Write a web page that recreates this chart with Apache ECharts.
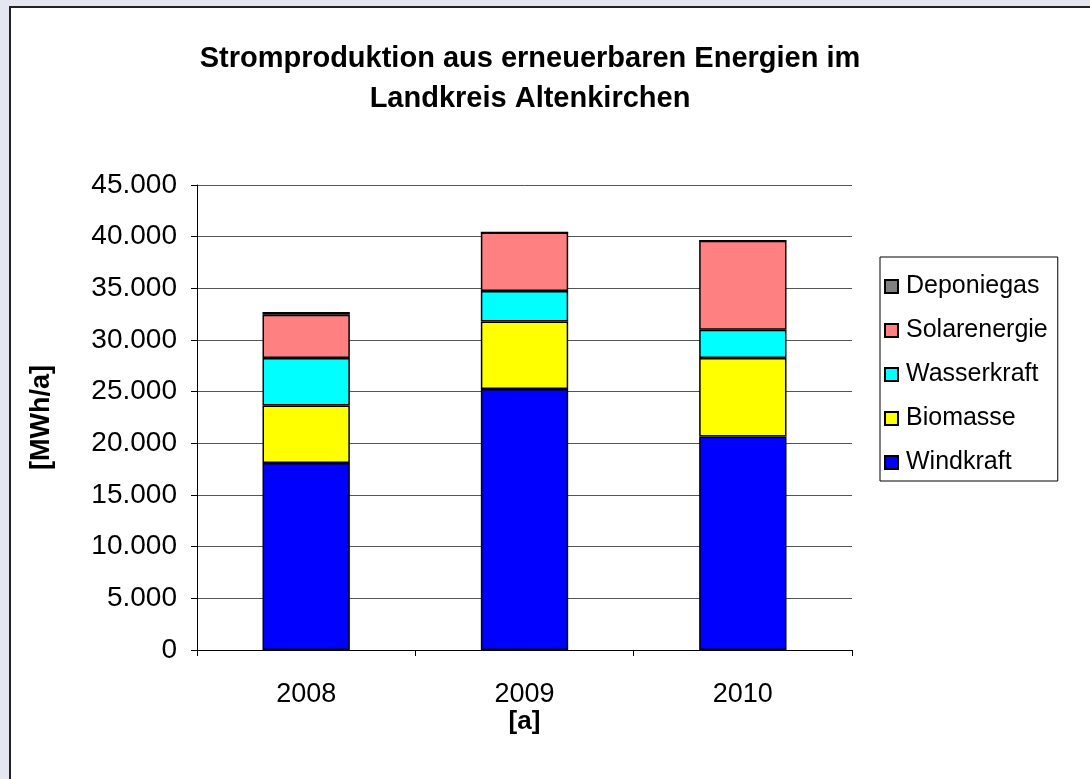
<!DOCTYPE html>
<html>
<head>
<meta charset="utf-8">
<script src="https://cdn.jsdelivr.net/npm/echarts@6/dist/echarts.min.js"></script>
<style>
    html, body {
        margin: 0;
        padding: 0;
        width: 1090px;
        height: 779px;
        overflow: hidden;
        background: #e4e6f2;
    }
    .frame {
        position: absolute;
        left: 9px;
        top: 6px;
        width: 1100px;
        height: 800px;
        background: #fff;
        border-left: 2px solid #222;
        border-top: 2px solid #222;
    }
    #chart {
        position: absolute;
        left: 0;
        top: 0;
        width: 1090px;
        height: 779px;
    }
</style>
</head>
<body>
<div class="frame"></div>
<div id="chart"></div>
<script>
    // Werte in MWh/a
    const years = ['2008', '2009', '2010'];
    const windkraft = [18100, 25250, 20650];
    const biomasse = [5550, 6550, 7600];
    const wasserkraft = [4600, 2950, 2750];
    const solarenergie = [4200, 5650, 8600];
    const deponiegas = [250, 0, 0];

    const seriesNames = ['Windkraft', 'Biomasse', 'Wasserkraft', 'Solarenergie', 'Deponiegas'];
    const seriesData = [windkraft, biomasse, wasserkraft, solarenergie, deponiegas];
    const seriesColors = ['#0000ff', '#ffff00', '#00ffff', '#ff8080', '#808080'];

    const font = '"Liberation Sans", Arial, sans-serif';

    let myChart = echarts.init(document.getElementById('chart'));

    let series = seriesNames.map(function (name, i) {
        return {
            name: name,
            type: 'bar',
            stack: 'total',
            barWidth: '40%',
            data: seriesData[i],
            itemStyle: {
                color: seriesColors[i],
                borderColor: '#000',
                borderWidth: 1.5
            }
        };
    });

    let option = {
        animation: false,
        title: {
            text: 'Stromproduktion aus erneuerbaren Energien im\nLandkreis Altenkirchen',
            left: 525,
            top: 34,
            textAlign: 'center',
            textStyle: {
                fontFamily: font,
                fontSize: 29,
                fontWeight: 'bold',
                color: '#000',
                lineHeight: 40
            }
        },
        legend: {
            orient: 'vertical',
            left: 880,
            top: 257,
            data: seriesNames.slice().reverse(),
            icon: 'rect',
            itemWidth: 13,
            itemHeight: 13,
            itemGap: 19,
            padding: [17, 10, 6, 4],
            borderColor: '#000',
            borderWidth: 1,
            textStyle: {
                fontFamily: font,
                fontSize: 25,
                color: '#000',
                padding: [0, 0, 0, 3]
            }
        },
        grid: {
            left: 197,
            right: 238,
            top: 185,
            bottom: 129,
            containLabel: false
        },
        xAxis: {
            type: 'category',
            data: years,
            name: '[a]',
            nameLocation: 'middle',
            nameGap: 59,
            nameMoveOverlap: false,
            nameTextStyle: {
                fontFamily: font,
                fontSize: 26,
                fontWeight: 'bold',
                color: '#000'
            },
            axisLine: { lineStyle: { color: '#000', width: 1 } },
            axisTick: { show: true, length: 6, lineStyle: { color: '#000' } },
            axisLabel: {
                margin: 31,
                fontFamily: font,
                fontSize: 27,
                color: '#000'
            }
        },
        yAxis: {
            type: 'value',
            min: 0,
            max: 45000,
            interval: 5000,
            name: '[MWh/a]',
            nameLocation: 'middle',
            nameGap: 142,
            nameMoveOverlap: false,
            nameTextStyle: {
                fontFamily: font,
                fontSize: 27,
                fontWeight: 'bold',
                color: '#000'
            },
            axisLine: { show: true, lineStyle: { color: '#000', width: 1 } },
            axisTick: { show: true, length: 6, lineStyle: { color: '#000' } },
            axisLabel: {
                margin: 20,
                fontFamily: font,
                fontSize: 28,
                color: '#000',
                formatter: function (v) {
                    return String(v).replace(/\B(?=(\d{3})+(?!\d))/g, '.');
                }
            },
            splitLine: { show: true, lineStyle: { color: '#555', width: 1 } }
        },
        series: series
    };

    myChart.setOption(option);
</script>
</body>
</html>
